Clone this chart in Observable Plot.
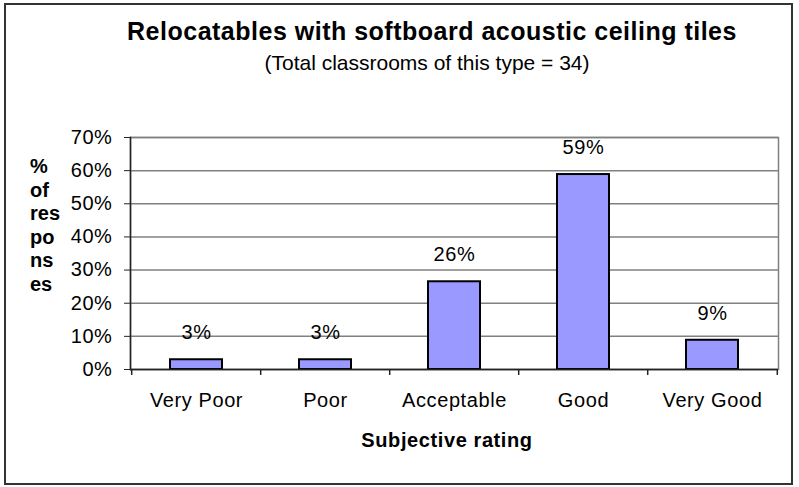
<!DOCTYPE html>
<html><head><meta charset="utf-8">
<script src="https://cdn.jsdelivr.net/npm/d3@7"></script>
<script src="https://cdn.jsdelivr.net/npm/@observablehq/plot@0.6"></script>
<style>
html,body{margin:0;padding:0;background:#fff;}
#wrap{position:relative;width:799px;height:487px;}
#wrap svg{position:absolute;left:0;top:0;}
#border{position:absolute;left:4px;top:3px;width:789px;height:482px;box-sizing:border-box;border:2px solid #333;pointer-events:none;}
</style></head><body>
<div id="wrap"><div id="border"></div></div>
<script>
const categories = ["Very Poor", "Poor", "Acceptable", "Good", "Very Good"];
const percentages = [2.94, 2.94, 26.47, 58.82, 8.82];
const yTicks = [0, 10, 20, 30, 40, 50, 60, 70];
const titleText = "Relocatables with softboard acoustic ceiling tiles";
const subtitleText = "(Total classrooms of this type = 34)";
const xLabel = "Subjective rating";
const yLabelLines = ["%", "of", "res", "po", "ns", "es"];

const data = categories.map((c, i) => ({category: c, value: percentages[i]}));
const font = "Arial, 'Liberation Sans', sans-serif";
const halfStep = (799 - 130 - 21) / categories.length / 2;

const chart = Plot.plot({
  width: 799, height: 487,
  marginLeft: 130, marginRight: 21, marginTop: 137, marginBottom: 118,
  style: {fontFamily: font, fontSize: "20px", color: "#000", background: "transparent", overflow: "visible", letterSpacing: "0.6px"},
  x: {type: "band", domain: categories, paddingInner: 0.6, paddingOuter: 0.3},
  y: {domain: [0, 70]},
  marks: [
    Plot.gridY(yTicks, {stroke: "#808080", strokeOpacity: 1, strokeWidth: 1.5}),
    Plot.frame({stroke: "#808080", strokeWidth: 1.5}),
    Plot.barY(data, {x: "category", y: "value", fill: "#9999FF", stroke: "#000", strokeWidth: 2}),
    Plot.text(data, {x: "category", y: "value", text: d => Math.round(d.value) + "%", dy: -27, lineAnchor: "middle", fontSize: 20, fill: "#000"}),
    Plot.ruleY([0], {stroke: "#222", strokeWidth: 1.5}),
    Plot.frame({anchor: "left", stroke: "#222", strokeWidth: 1.5}),
    Plot.ruleX(categories, {x: d => d, dx: -halfStep, y1: 0, y2: -1.8, stroke: "#222", strokeWidth: 1.5}),
    Plot.ruleX([categories[categories.length - 1]], {x: d => d, dx: halfStep, y1: 0, y2: -1.8, stroke: "#222", strokeWidth: 1.5}),
    Plot.axisY({ticks: yTicks, tickFormat: d => d + "%", tickSize: 6, tickPadding: 12, label: null, fontSize: 20, stroke: "#222"}),
    Plot.axisX({tickSize: 0, tickPadding: 23, label: null, fontSize: 20})
  ]
});

const svg = d3.select(chart);
svg.append("text").attr("x", 432).attr("y", 40).attr("text-anchor", "middle")
  .attr("font-family", font).attr("font-size", 25).attr("font-weight", "bold")
  .attr("letter-spacing", 0.5).text(titleText);
svg.append("text").attr("x", 427).attr("y", 70).attr("text-anchor", "middle")
  .attr("font-family", font).attr("font-size", 21).attr("letter-spacing", 0).text(subtitleText);
svg.append("text").attr("x", 447).attr("y", 447).attr("text-anchor", "middle")
  .attr("font-family", font).attr("font-size", 20).attr("font-weight", "bold").text(xLabel);
const yl = svg.append("text").attr("font-family", font).attr("font-size", 20).attr("font-weight", "bold")
  .attr("text-anchor", "start").attr("letter-spacing", 0);
yLabelLines.forEach((t, i) => yl.append("tspan").attr("x", 30).attr("y", 173 + i * 23.5).text(t));

document.getElementById("wrap").insertBefore(chart, document.getElementById("border"));
</script>
</body></html>
